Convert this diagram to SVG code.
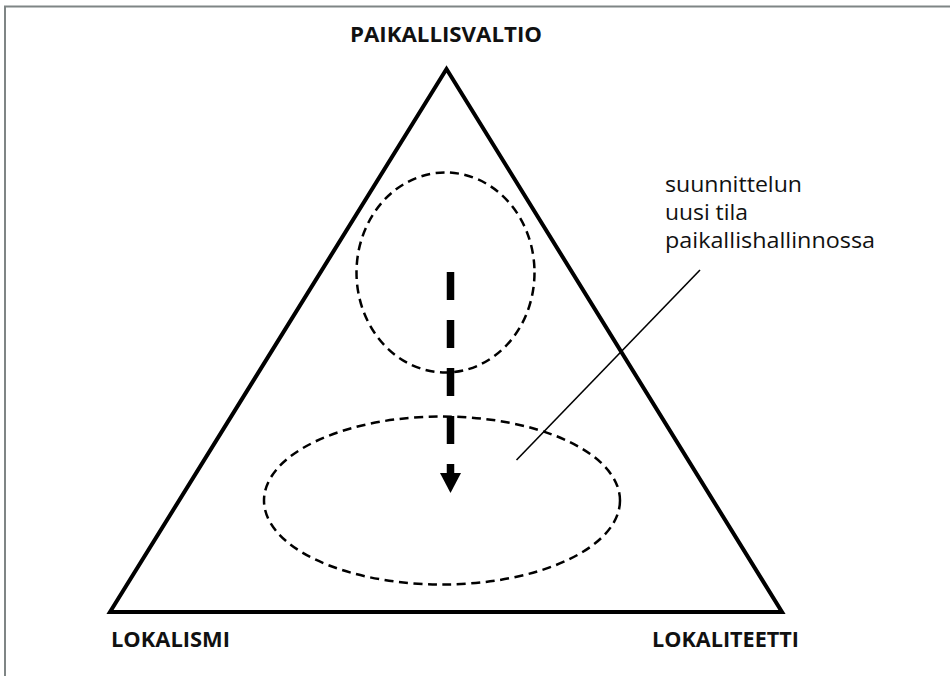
<svg xmlns="http://www.w3.org/2000/svg" width="950" height="676" viewBox="0 0 950 676">
<style>
.frame{fill:none;stroke:#7f8585;stroke-width:2}
.tri{fill:none;stroke:#000;stroke-width:4;stroke-linejoin:miter}
.dash{fill:none;stroke:#000;stroke-width:2.5;stroke-dasharray:9 5.5}
.lbl{font-family:"Open Sans","Liberation Sans",sans-serif;font-weight:700;font-size:22px;fill:#111}
.note{font-family:"Open Sans","Liberation Sans",sans-serif;font-size:22.5px;fill:#111}
</style>
<rect width="950" height="676" fill="#fff"/>
<path class="frame" d="M5 676 V6.5 H950"/>
<g id="triangle"><polygon class="tri" points="446.5,69 110,612 782,612"/></g>
<g id="circle"><ellipse class="dash" cx="445.5" cy="272.5" rx="89" ry="100"/></g>
<g id="ellipse"><ellipse class="dash" cx="442" cy="500.5" rx="178" ry="84"/></g>
<g id="connectors">
<line x1="450.5" y1="272" x2="450.5" y2="474" stroke="#000" stroke-width="7.5" stroke-dasharray="28 20"/>
<polygon points="440,473 461,473 450.5,493" fill="#000"/>
<line x1="700" y1="270" x2="516.5" y2="460" stroke="#000" stroke-width="1.6"/>
</g>
<g id="label-top"><text class="lbl" x="446" y="41.5" text-anchor="middle" textLength="192" lengthAdjust="spacingAndGlyphs">PAIKALLISVALTIO</text></g>
<g id="label-left"><text class="lbl" x="111" y="647" textLength="119" lengthAdjust="spacingAndGlyphs">LOKALISMI</text></g>
<g id="label-right"><text class="lbl" x="652" y="647" textLength="147" lengthAdjust="spacingAndGlyphs">LOKALITEETTI</text></g>
<g id="note">
<text class="note" x="665" y="192" textLength="137" lengthAdjust="spacingAndGlyphs">suunnittelun</text>
<text class="note" x="665" y="220" textLength="83" lengthAdjust="spacingAndGlyphs">uusi tila</text>
<text class="note" x="665" y="248" textLength="210" lengthAdjust="spacingAndGlyphs">paikallishallinnossa</text>
</g>
</svg>
